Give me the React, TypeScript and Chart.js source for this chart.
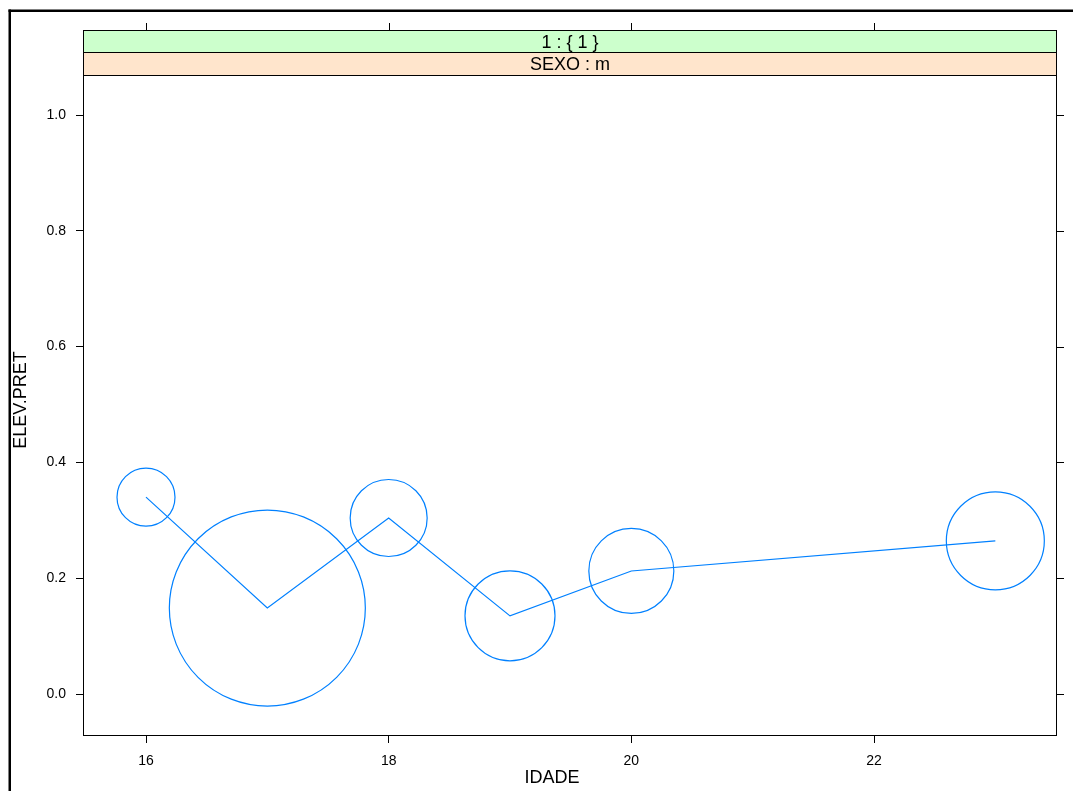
import React, { useEffect, useRef } from "react";
import { Chart, registerables } from "chart.js";

Chart.register(...registerables);

// ---- data ----
const idade = [16, 17, 18, 19, 20, 23];
const elevPret = [0.34, 0.1485, 0.304, 0.135, 0.2125, 0.2645];
const bubbleSize = [29, 98, 38.5, 45, 42.5, 49];
const xTicks = [16, 18, 20, 22];
const xTickLabels = ["16", "18", "20", "22"];
const yTicks = [0, 0.2, 0.4, 0.6, 0.8, 1.0];
const yTickLabels = ["0.0", "0.2", "0.4", "0.6", "0.8", "1.0"];
const stripLabels = ["1 : { 1 }", "SEXO : m"];
const xTitle = "IDADE";
const yTitle = "ELEV.PRET";

const FONT = "'Liberation Sans', Arial, sans-serif";
const BLUE = "#0080ff";

const latticePlugin = {
  id: "latticeDecor",
  afterDraw(chart: any) {
    const { ctx, chartArea } = chart;
    const { left, right, top, bottom } = chartArea;
    const xs = chart.scales.x;
    const ys = chart.scales.y;
    ctx.save();

    // outer frame (partially visible)
    ctx.fillStyle = "#000";
    ctx.fillRect(8.5, 9.5, 2.5, 800);
    ctx.fillRect(8.5, 9.5, 1100, 2.5);

    // strips
    const stripTop = 30;
    const stripMid = 52;
    ctx.fillStyle = "#ccffcc";
    ctx.fillRect(left, stripTop, right - left, stripMid - stripTop);
    ctx.fillStyle = "#ffe5cc";
    ctx.fillRect(left, stripMid, right - left, top - stripMid);
    ctx.strokeStyle = "#000";
    ctx.lineWidth = 1;
    ctx.strokeRect(left - 0.5, stripTop + 0.5, right - left + 1, stripMid - stripTop);
    ctx.strokeRect(left - 0.5, stripMid + 0.5, right - left + 1, top - stripMid);

    ctx.fillStyle = "#000";
    ctx.font = `18px ${FONT}`;
    ctx.textAlign = "center";
    ctx.textBaseline = "alphabetic";
    const cx = (left + right) / 2;
    ctx.fillText(stripLabels[0], cx, 47.5);
    ctx.fillText(stripLabels[1], cx, 70);

    // panel border
    ctx.strokeStyle = "#000";
    ctx.strokeRect(left - 0.5, top + 0.5, right - left + 1, bottom - top);

    // top ticks (above strips)
    ctx.beginPath();
    xTicks.forEach((v) => {
      const px = Math.round(xs.getPixelForValue(v)) + 0.5;
      ctx.moveTo(px, stripTop);
      ctx.lineTo(px, stripTop - 7);
    });
    // right ticks
    yTicks.forEach((v) => {
      const py = Math.round(ys.getPixelForValue(v)) + 0.5;
      ctx.moveTo(right, py);
      ctx.lineTo(right + 8, py);
    });
    ctx.stroke();

    // axis titles
    ctx.font = `18px ${FONT}`;
    ctx.textAlign = "center";
    ctx.textBaseline = "alphabetic";
    ctx.fillText(xTitle, 552, 783);
    ctx.save();
    ctx.translate(25.5, 400);
    ctx.rotate(-Math.PI / 2);
    ctx.fillText(yTitle, 0, 0);
    ctx.restore();

    ctx.restore();
  },
};

export default function App() {
  const ref = useRef<HTMLCanvasElement | null>(null);

  useEffect(() => {
    const canvas = ref.current;
    if (!canvas) return;
    const points = idade.map((x, i) => ({ x, y: elevPret[i] }));
    const bubbles = idade.map((x, i) => ({ x, y: elevPret[i], r: bubbleSize[i] }));

    const chart = new Chart(canvas, {
      type: "scatter",
      data: {
        datasets: [
          {
            type: "bubble",
            data: bubbles,
            borderColor: BLUE,
            backgroundColor: "rgba(0,0,0,0)",
            borderWidth: 1.2,
            hoverBorderWidth: 1.2,
          } as any,
          {
            type: "scatter",
            data: points,
            showLine: true,
            borderColor: BLUE,
            borderWidth: 1.2,
            pointRadius: 0,
            fill: false,
            tension: 0,
          } as any,
        ],
      },
      options: {
        animation: false,
        responsive: false,
        devicePixelRatio: 1,
        events: [],
        layout: { autoPadding: false, padding: { left: 0, top: 75, right: 17, bottom: 0 } },
        plugins: {
          legend: { display: false },
          tooltip: { enabled: false },
          title: { display: false },
        },
        scales: {
          x: {
            type: "linear",
            position: "bottom",
            min: 15.489,
            max: 23.5,
            bounds: "data",
            offset: false,
            afterBuildTicks: (s: any) => {
              s.ticks = xTicks.map((v) => ({ value: v }));
            },
            afterFit: (s: any) => {
              s.height = 56;
            },
            ticks: {
              callback: (_v: any, i: number) => xTickLabels[i],
              autoSkip: false,
              maxRotation: 0,
              padding: 10,
              color: "#000",
              font: { family: FONT, size: 14 },
            },
            grid: {
              drawOnChartArea: false,
              drawTicks: true,
              tickLength: 8,
              color: "#000",
              lineWidth: 1,
            },
            border: { display: false },
          },
          y: {
            type: "linear",
            position: "left",
            min: -0.0708,
            max: 1.0691,
            bounds: "data",
            offset: false,
            afterBuildTicks: (s: any) => {
              s.ticks = yTicks.map((v) => ({ value: v }));
            },
            afterFit: (s: any) => {
              s.width = 84;
            },
            ticks: {
              callback: (_v: any, i: number) => yTickLabels[i],
              autoSkip: false,
              padding: 10,
              color: "#000",
              font: { family: FONT, size: 14 },
            },
            grid: {
              drawOnChartArea: false,
              drawTicks: true,
              tickLength: 8,
              color: "#000",
              lineWidth: 1,
            },
            border: { display: false },
          },
        },
      } as any,
      plugins: [latticePlugin],
    });
    return () => chart.destroy();
  }, []);

  return (
    <div
      style={{
        position: "fixed",
        left: 0,
        top: 0,
        width: 1073,
        height: 791,
        background: "#fff",
      }}
    >
      <canvas ref={ref} width={1073} height={791} style={{ width: 1073, height: 791, display: "block" }} />
    </div>
  );
}
